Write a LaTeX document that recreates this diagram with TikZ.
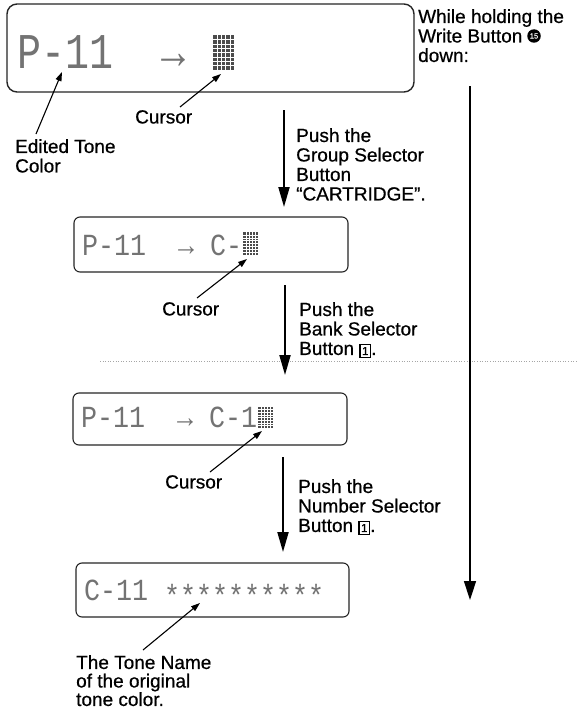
\documentclass[tikz,border=0pt]{standalone}
\usepackage{fontspec}
\usepackage{graphicx}
\setmainfont{Liberation Sans}[FakeBold=0.6]
\newfontfamily\lcdfont{Liberation Mono}
\usetikzlibrary{arrows.meta}
\newcommand\keybox[1]{{\setlength\fboxsep{1.6pt}\setlength\fboxrule{1.1pt}\fbox{\fontsize{11.5}{11.5}\selectfont #1}}}
\begin{document}
\begin{tikzpicture}[x=1pt,y=-1pt,
  lbl/.style={anchor=north west, inner sep=0pt, align=left, font=\fontsize{19}{19.5}\selectfont},
  lblb/.style={lbl, font=\fontsize{19}{18.5}\selectfont},
  lcdbox/.style={draw=black!85, line width=1.1pt, rounded corners=6pt, inner sep=0pt},
  lcdbig/.style={anchor=base west, inner sep=0pt, text=black!55, font=\lcdfont\fontsize{40}{40}\selectfont},
  lcdsmall/.style={anchor=base west, inner sep=0pt, text=black!55, font=\lcdfont\fontsize{26.67}{26.67}\selectfont},
  negnum/.style={circle, fill=black, inner sep=0pt, minimum size=13.5pt, text=white, font=\fontsize{7.5}{7.5}\selectfont},
  ptr/.style={line width=1.1pt, -{Triangle[length=9pt,width=6pt]}},
  flow/.style={line width=2pt, -{Triangle[length=20pt,width=11pt]}},
  longflow/.style={line width=1.5pt, -{Triangle[length=19pt,width=12pt]}},
  lcdcur/.pic={
    \fill[black!70] (0,0) rectangle (1,1);
    \foreach \i in {0.2,0.4,0.6,0.8}{\draw[white,line width=0.35pt] (\i,0) -- (\i,1);}
    \foreach \j in {0.125,0.25,0.375,0.5,0.625,0.75,0.875}{\draw[white,line width=0.35pt] (0,\j) -- (1,\j);}
  }
]
\useasboundingbox[fill=white] (0,0) rectangle (578,709);

% scan fold line
\draw[black!35, dotted, line width=0.6pt] (100,361) -- (578,361);

% LCD boxes
\node[lcdbox, rounded corners=10pt, line width=1.4pt, minimum width=407pt, minimum height=88pt] (b1) at (210.5,48) {};
\node[lcdbox, minimum width=274pt, minimum height=55pt] (b2) at (211,244.5) {};
\node[lcdbox, minimum width=274pt, minimum height=52pt] (b3) at (210,419) {};
\node[lcdbox, minimum width=273pt, minimum height=54pt] (b4) at (212.5,590) {};

% LCD contents
\node[lcdbig] (t1) at (17,68) {\scalebox{1}[1.25]{P-11~~→}};
\pic at (213,35) [xscale=21,yscale=35] {lcdcur};
\node[lcdsmall] (t2) at (82,255) {\scalebox{1}[1.15]{P-11~~→~C-}};
\pic at (243,232) [xscale=15,yscale=23] {lcdcur};
\node[lcdsmall] (t3) at (81,427) {\scalebox{1}[1.15]{P-11~~→~C-1}};
\pic at (258,407) [xscale=15,yscale=21] {lcdcur};
\node[lcdsmall] (t4) at (84,600) {\scalebox{1}[1.15]{C-11~\raisebox{-0.2em}{**********}}};

% labels
\node[lbl] (edt) at (15,139) {Edited Tone\\Color};
\node[lbl] (cur1) at (135,110) {Cursor};
\node[lbl] (hold) at (418,9) {While holding the\\Write Button\\down:};
\node[negnum] (n15) at (534,36) {15};
\node[lbl] (push1) at (296,128) {Push the\\Group Selector\\Button\\“CARTRIDGE”.};
\node[lbl] (cur2) at (162,302) {Cursor};
\node[lbl] (push2) at (299,302) {Push the\\Bank Selector\\Button \keybox{1}.};
\node[lbl] (cur3) at (165,475) {Cursor};
\node[lbl] (push3) at (298,479) {Push the\\Number Selector\\Button \keybox{1}.};
\node[lblb] (tname) at (76,655) {The Tone Name\\of the original\\tone color.};

% pointer coordinates
\coordinate (e1s) at (36,134); \coordinate (e1e) at (62,72);
\coordinate (c1s) at (180,107); \coordinate (c1e) at (221,74);
\coordinate (c2s) at (197,298); \coordinate (c2e) at (247,259);
\coordinate (c3s) at (210,472); \coordinate (c3e) at (262,431);
\coordinate (tns) at (143,650); \coordinate (tne) at (200,603);
\draw[ptr] (e1s) -- (e1e);
\draw[ptr] (c1s) -- (c1e);
\draw[ptr] (c2s) -- (c2e);
\draw[ptr] (c3s) -- (c3e);
\draw[ptr] (tns) -- (tne);

% flow arrows
\coordinate (d1s) at (284,110); \coordinate (d1e) at (284,207);
\coordinate (d2s) at (285,285); \coordinate (d2e) at (285,375);
\coordinate (d3s) at (283,457); \coordinate (d3e) at (283,552);
\coordinate (ls) at (470,86); \coordinate (le) at (470,600);
\draw[flow] (d1s) -- (d1e);
\draw[flow] (d2s) -- (d2e);
\draw[flow] (d3s) -- (d3e);
\draw[longflow] (ls) -- (le);
\end{tikzpicture}
\end{document}
